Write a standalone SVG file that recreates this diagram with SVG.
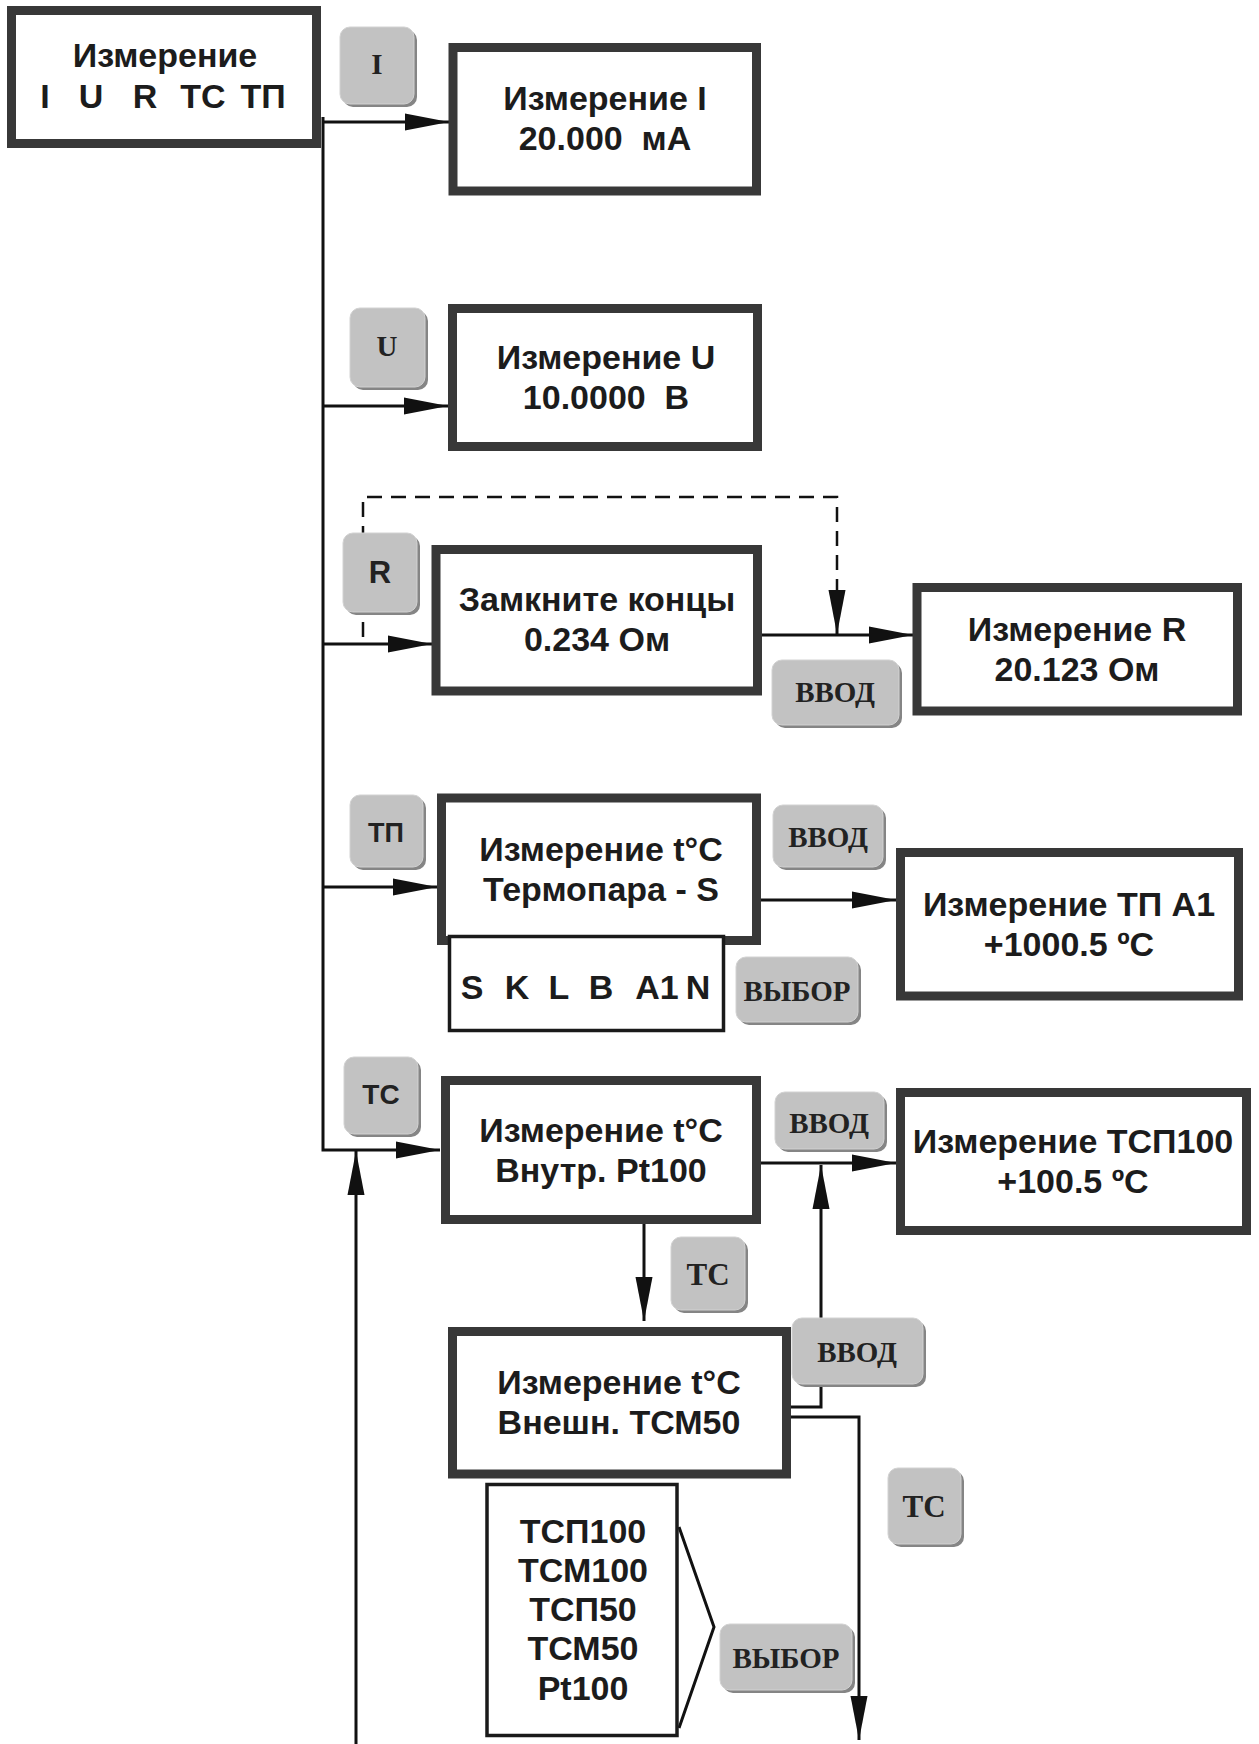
<svg xmlns="http://www.w3.org/2000/svg" width="1259" height="1744" viewBox="0 0 1259 1744">
<style>
.box{fill:#fff;stroke:#383838;stroke-width:9}
.thin{fill:#fff;stroke:#1a1a1a;stroke-width:3.5}
.t{font-family:"Liberation Sans",Arial,sans-serif;font-weight:bold;font-size:34px;fill:#1c1c1c;text-anchor:middle}
.bsh{fill:#858585}
.bf{fill:#c2c2c2;stroke:#d2d2d2;stroke-width:1}
.bt{font-family:"Liberation Serif","Times New Roman",serif;font-weight:bold;font-size:29px;fill:#222;text-anchor:middle}
.btl{font-size:31px}
.bts{font-family:"Liberation Sans",Arial,sans-serif;font-weight:bold;font-size:27px;fill:#222;text-anchor:middle}
.ln{fill:none;stroke:#111;stroke-width:3}
.dash{stroke-dasharray:15 9;stroke-width:2.5}
</style>
<defs>
<marker id="ah" markerUnits="userSpaceOnUse" markerWidth="44" markerHeight="17" refX="44" refY="8.5" orient="auto" overflow="visible">
<path d="M0,0 L44,8.5 L0,17 z" fill="#111"/>
</marker>
</defs>
<rect width="1259" height="1744" fill="#fff"/>

<g id="connectors">
<path class="ln" d="M323,117 V1150 H440" marker-end="url(#ah)"/>
<path class="ln" d="M323,122 H449" marker-end="url(#ah)"/>
<path class="ln" d="M323,406 H448" marker-end="url(#ah)"/>
<path class="ln" d="M323,644 H432" marker-end="url(#ah)"/>
<path class="ln" d="M323,887 H437" marker-end="url(#ah)"/>
<path class="ln dash" d="M363,637 V497 H837 V603"/>
<path class="ln" d="M837,600 V634" marker-end="url(#ah)"/>
<path class="ln" d="M762,635 H913" marker-end="url(#ah)"/>
<path class="ln" d="M761,900 H896" marker-end="url(#ah)"/>
<path class="ln" d="M761,1163 H896" marker-end="url(#ah)"/>
<path class="ln" d="M644,1224 V1321" marker-end="url(#ah)"/>
<path class="ln" d="M791,1407 H821 V1165" marker-end="url(#ah)"/>
<path class="ln" d="M791,1417 H859 V1740" marker-end="url(#ah)"/>
<path class="ln" d="M356,1744 V1151" marker-end="url(#ah)"/>
<path class="ln" d="M679,1527 L714,1627 L679,1728"/>
</g>

<g id="n-main">
<rect class="box" x="11.5" y="10.5" width="305" height="133"/>
<text class="t" x="165" y="67">Измерение</text>
<text class="t" x="45" y="108">I</text>
<text class="t" x="91" y="108">U</text>
<text class="t" x="145" y="108">R</text>
<text class="t" x="203" y="108">TC</text>
<text class="t" x="263" y="108">TП</text>
</g>

<g id="n-I">
<rect class="box" x="453" y="47.5" width="303.5" height="143.5"/>
<text class="t" x="605" y="110">Измерение I</text>
<text class="t" x="605" y="150" xml:space="preserve">20.000  мА</text>
</g>

<g id="n-U">
<rect class="box" x="452.5" y="308.5" width="305" height="138"/>
<text class="t" x="606" y="369">Измерение U</text>
<text class="t" x="606" y="409" xml:space="preserve">10.0000  В</text>
</g>

<g id="n-short">
<rect class="box" x="436" y="549.5" width="321.5" height="141.5"/>
<text class="t" x="597" y="611">Замкните концы</text>
<text class="t" x="597" y="651">0.234 Ом</text>
</g>

<g id="n-R">
<rect class="box" x="917" y="587.5" width="320.5" height="123.5"/>
<text class="t" x="1077" y="641">Измерение R</text>
<text class="t" x="1077" y="681">20.123 Ом</text>
</g>

<g id="n-TP">
<rect class="box" x="441.5" y="798" width="315" height="142.5"/>
<text class="t" x="601" y="861">Измерение t°C</text>
<text class="t" x="601" y="901">Термопара - S</text>
</g>

<g id="n-TP-list">
<rect class="thin" x="449.5" y="936.5" width="274" height="94"/>
<text class="t" x="472" y="999">S</text>
<text class="t" x="517" y="999">K</text>
<text class="t" x="559" y="999">L</text>
<text class="t" x="601" y="999">B</text>
<text class="t" x="657" y="999">A1</text>
<text class="t" x="698" y="999">N</text>
</g>

<g id="n-TPA1">
<rect class="box" x="900.5" y="852.5" width="338" height="143.5"/>
<text class="t" x="1069" y="916">Измерение ТП А1</text>
<text class="t" x="1069" y="956">+1000.5 ºC</text>
</g>

<g id="n-Pt100">
<rect class="box" x="445.5" y="1080.5" width="311" height="139"/>
<text class="t" x="601" y="1142">Измерение t°C</text>
<text class="t" x="601" y="1182">Внутр. Pt100</text>
</g>

<g id="n-TSP100">
<rect class="box" x="900.5" y="1092.5" width="346" height="138"/>
<text class="t" x="1073" y="1153">Измерение ТСП100</text>
<text class="t" x="1073" y="1193">+100.5 ºC</text>
</g>

<g id="n-ext">
<rect class="box" x="452.5" y="1331.5" width="334" height="142.5"/>
<text class="t" x="619" y="1394">Измерение t°C</text>
<text class="t" x="619" y="1434">Внешн. ТСМ50</text>
</g>

<g id="n-ext-list">
<rect class="thin" x="487" y="1484.5" width="190" height="251"/>
<text class="t" x="583" y="1543">ТСП100</text>
<text class="t" x="583" y="1582">ТСМ100</text>
<text class="t" x="583" y="1621">ТСП50</text>
<text class="t" x="583" y="1660">ТСМ50</text>
<text class="t" x="583" y="1700">Pt100</text>
</g>

<g id="b-I"><rect class="bsh" x="343" y="30" width="74" height="77" rx="10"/><rect class="bf" x="340" y="27" width="74" height="77" rx="10"/><text class="bt" x="377" y="74">I</text></g>
<g id="b-U"><rect class="bsh" x="353" y="311" width="75" height="79" rx="10"/><rect class="bf" x="350" y="308" width="75" height="79" rx="10"/><text class="bt" x="387" y="356">U</text></g>
<g id="b-R"><rect class="bsh" x="346" y="536" width="74" height="79" rx="10"/><rect class="bf" x="343" y="533" width="74" height="79" rx="10"/><text class="bts" x="380" y="583" style="font-size:31px">R</text></g>
<g id="b-vvod-R"><rect class="bsh" x="775" y="663" width="127" height="65" rx="10"/><rect class="bf" x="772" y="660" width="127" height="65" rx="10"/><text class="bt" x="835" y="702">ВВОД</text></g>
<g id="b-TP"><rect class="bsh" x="353" y="798" width="73" height="72" rx="10"/><rect class="bf" x="350" y="795" width="73" height="72" rx="10"/><text class="bts" x="386" y="842">ТП</text></g>
<g id="b-vvod-TP"><rect class="bsh" x="776" y="808" width="110" height="62" rx="10"/><rect class="bf" x="773" y="805" width="110" height="62" rx="10"/><text class="bt" x="828" y="847">ВВОД</text></g>
<g id="b-vybor-TP"><rect class="bsh" x="739" y="960" width="122" height="65" rx="10"/><rect class="bf" x="736" y="957" width="122" height="65" rx="10"/><text class="bt" x="797" y="1001">ВЫБОР</text></g>
<g id="b-TC1"><rect class="bsh" x="347" y="1060" width="74" height="77" rx="10"/><rect class="bf" x="344" y="1057" width="74" height="77" rx="10"/><text class="bts" x="381" y="1104" style="font-size:28px">ТС</text></g>
<g id="b-vvod-Pt"><rect class="bsh" x="778" y="1095" width="109" height="57" rx="10"/><rect class="bf" x="775" y="1092" width="109" height="57" rx="10"/><text class="bt" x="829" y="1133">ВВОД</text></g>
<g id="b-TC2"><rect class="bsh" x="674" y="1240" width="74" height="73" rx="10"/><rect class="bf" x="671" y="1237" width="74" height="73" rx="10"/><text class="bt btl" x="708" y="1285">ТС</text></g>
<g id="b-vvod-ext"><rect class="bsh" x="795" y="1321" width="131" height="66" rx="10"/><rect class="bf" x="792" y="1318" width="131" height="66" rx="10"/><text class="bt" x="857" y="1362">ВВОД</text></g>
<g id="b-TC3"><rect class="bsh" x="891" y="1471" width="73" height="76" rx="10"/><rect class="bf" x="888" y="1468" width="73" height="76" rx="10"/><text class="bt btl" x="924" y="1517">ТС</text></g>
<g id="b-vybor-ext"><rect class="bsh" x="723" y="1627" width="132" height="66" rx="10"/><rect class="bf" x="720" y="1624" width="132" height="66" rx="10"/><text class="bt" x="786" y="1668">ВЫБОР</text></g>
</svg>
